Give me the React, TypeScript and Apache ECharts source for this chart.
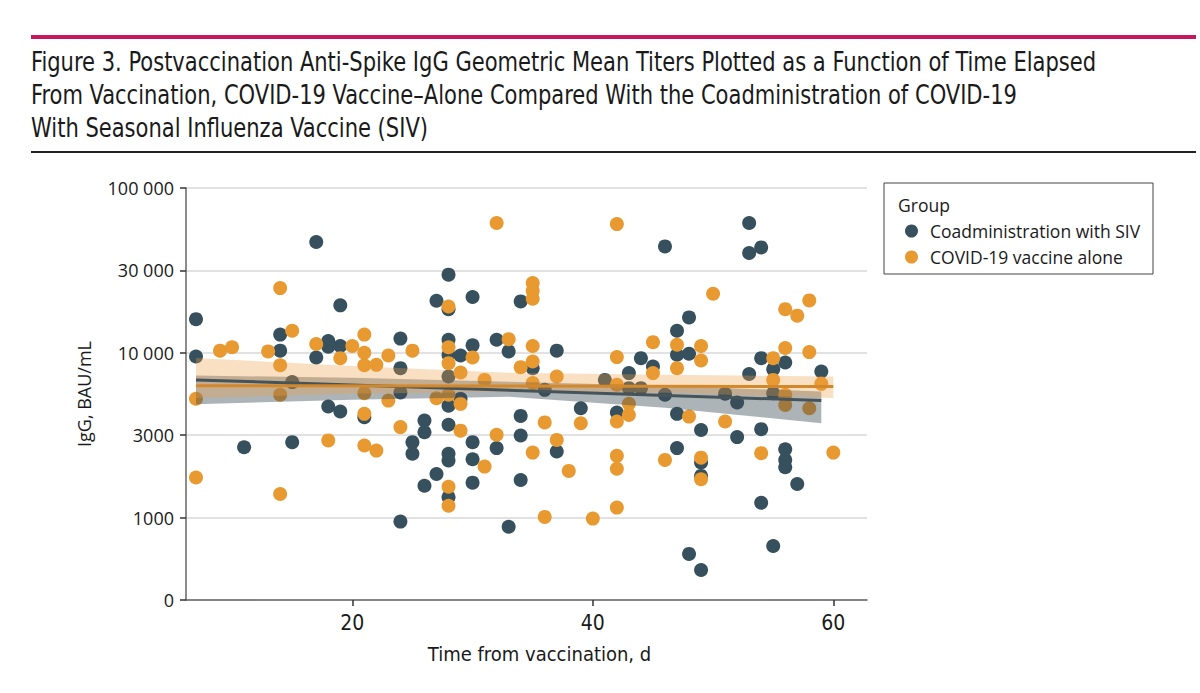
import React, { useEffect, useRef } from "react";
import * as echarts from "echarts";

// ---- Data ----
const coadminDays = [
  7, 7, 11, 14, 14, 15, 15, 17, 17, 18, 18, 18, 19, 19, 19, 21, 24, 24, 24, 24,
  25, 25, 26, 26, 26, 27, 27, 28, 28, 28, 28, 28, 28, 28, 28, 28, 28, 29, 29, 30,
  30, 30, 30, 30, 32, 32, 33, 33, 34, 34, 34, 34, 35, 36, 37, 37, 39, 41, 42, 43,
  43, 44, 44, 45, 46, 46, 47, 47, 47, 47, 48, 48, 48, 49, 49, 49, 49, 51, 52, 52,
  53, 53, 53, 54, 54, 54, 54, 55, 55, 55, 56, 56, 56, 56, 57, 59,
];
const coadminIgG = [
  16000, 9500, 2670, 12900, 10300, 6640, 2870, 47000, 9360, 11800, 10900, 4720, 19400, 11000, 4400, 4070, 12200, 8070, 5740, 946,
  2870, 2440, 3880, 3300, 1560, 20700, 1840, 29800, 18400, 12000, 9700, 7180, 4770, 3660, 2440, 2220, 1330, 9630, 5260, 21800,
  11100, 2870, 2260, 1630, 12000, 2640, 10200, 880, 20500, 4140, 3150, 1690, 8070, 5960, 10300, 2520, 4610, 6850, 4340, 7530,
  6100, 9280, 6100, 8260, 44200, 5560, 13600, 9730, 4260, 2640, 16400, 9860, 602, 3400, 2160, 1790, 481, 5640, 4990, 3080,
  61300, 40300, 7430, 43600, 9280, 3440, 1230, 7960, 5690, 673, 8730, 2600, 2240, 2020, 1600, 7700,
];

const aloneDays = [
  7, 7, 9, 10, 13, 14, 14, 14, 14, 15, 17, 18, 19, 20, 21, 21, 21, 21, 21, 21,
  22, 22, 23, 23, 24, 25, 27, 28, 28, 28, 28, 28, 28, 29, 29, 29, 30, 31, 31, 32,
  32, 33, 34, 35, 35, 35, 35, 35, 35, 35, 36, 36, 37, 37, 38, 39, 40, 42, 42, 42,
  42, 42, 42, 42, 43, 43, 45, 45, 46, 47, 47, 48, 49, 49, 49, 49, 50, 51, 54, 55,
  55, 56, 56, 56, 56, 57, 58, 58, 58, 59, 60,
];
const aloneIgG = [
  5260, 1750, 10300, 10800, 10200, 24700, 8400, 5560, 1390, 13600, 11300, 2940, 9280, 11000, 12900, 10000, 8400, 5690, 4260, 2740,
  8450, 2550, 9630, 5130, 3540, 10300, 5300, 19100, 10800, 8650, 5560, 1540, 1180, 7590, 4900, 3370, 9360, 6850, 2040, 61300,
  3180, 12100, 8180, 26500, 23800, 21300, 11000, 8860, 6550, 2480, 3780, 1010, 7180, 2960, 1920, 3740, 986, 60400, 9420, 6400,
  3830, 2370, 1980, 1150, 4900, 4200, 11600, 7530, 2240, 11200, 8070, 4100, 11000, 8980, 2310, 1710, 22800, 3830, 2460, 9280,
  6850, 18400, 10700, 5560, 4830, 16800, 20800, 10100, 4610, 6480, 2480,
];

// fitted lines and confidence bands
const coadminFitDays = [7, 59];
const coadminFit = [6850, 5130];
const coadminBandDays = [7, 20, 33, 46, 59];
const coadminBandLower = [4880, 5190, 5410, 4640, 3740];
const coadminBandUpper = [7280, 7050, 6670, 6310, 5820];

const aloneFitDays = [7, 60];
const aloneFit = [6320, 6240];
const aloneBandDays = [7, 20, 33, 46, 60];
const aloneBandLower = [5310, 5640, 5800, 5720, 5310];
const aloneBandUpper = [9290, 8330, 7570, 7350, 7180];

// axes
const yTickLabels = ["0", "1000", "3000", "10 000", "30 000", "100 000"];
const xTickValues = [20, 40, 60];

const seriesNames = ["Coadministration with SIV", "COVID-19 vaccine alone"];
const legendTitle = "Group";
const xAxisTitle = "Time from vaccination, d";
const yAxisTitle = "IgG, BAU/mL";
const titleLines = [
  "Figure 3. Postvaccination Anti-Spike IgG Geometric Mean Titers Plotted as a Function of Time Elapsed",
  "From Vaccination, COVID-19 Vaccine–Alone Compared With the Coadministration of COVID-19",
  "With Seasonal Influenza Vaccine (SIV)",
];

const DARK = "#37505d";
const ORANGE = "#e8992f";
const CONDENSED = '"Liberation Sans Narrow", "DejaVu Sans Condensed", "Arial Narrow", sans-serif';
const SANS = '"Open Sans", "Noto Sans", sans-serif';

const lg = (v: number) => Math.log10(v);

function bandSeries(name: string, days: number[], lower: number[], upper: number[], color: string, opacity: number) {
  return {
    type: "custom",
    name,
    z: 3,
    silent: true,
    coordinateSystem: "cartesian2d",
    data: [[days[0], lg(lower[0])]],
    encode: { x: 0, y: 1 },
    renderItem: (_params: any, api: any) => {
      const pts: number[][] = [];
      for (let i = 0; i < days.length; i++) pts.push(api.coord([days[i], lg(upper[i])]));
      for (let i = days.length - 1; i >= 0; i--) pts.push(api.coord([days[i], lg(lower[i])]));
      return { type: "polygon", shape: { points: pts }, style: { fill: color, opacity } };
    },
  };
}

function fitSeries(name: string, days: number[], vals: number[], color: string) {
  return {
    type: "line",
    name,
    z: 4,
    silent: true,
    symbol: "none",
    data: days.map((d, i) => [d, lg(vals[i])]),
    lineStyle: { color, width: 3 },
  };
}

export default function App() {
  const ref = useRef<HTMLDivElement>(null);
  useEffect(() => {
    if (!ref.current) return;
    const chart = echarts.init(ref.current, undefined, { renderer: "svg" });
    const option: any = {
      animation: false,
      backgroundColor: "#ffffff",
      grid: { left: 186, right: 333, top: 188, bottom: 93, containLabel: false },
      xAxis: {
        type: "value",
        min: 6.17,
        max: 62.8,
        name: xAxisTitle,
        nameLocation: "middle",
        nameGap: 44,
        nameTextStyle: { fontFamily: CONDENSED, fontSize: 20, color: "#1a1a1a", padding: [0, 0, 0, 26] },
        axisLine: { show: true, lineStyle: { color: "#666", width: 1.5 } },
        axisTick: { show: true, length: 6, customValues: xTickValues, lineStyle: { color: "#333", width: 1.5 } },
        axisLabel: { customValues: xTickValues, fontFamily: CONDENSED, fontSize: 21, color: "#1a1a1a", margin: 12 },
        splitLine: { show: false },
      },
      yAxis: {
        type: "value",
        min: 2.5,
        max: 5,
        interval: 0.5,
        name: yAxisTitle,
        nameLocation: "middle",
        nameGap: 93,
        nameTextStyle: { fontFamily: SANS, fontSize: 18, color: "#1a1a1a" },
        axisLine: { show: true, lineStyle: { color: "#666", width: 1.5 } },
        axisTick: { show: true, length: 6, lineStyle: { color: "#333", width: 1.5 } },
        axisLabel: {
          fontFamily: SANS,
          fontSize: 18,
          color: "#1a1a1a",
          margin: 12,
          formatter: (v: number) => yTickLabels[Math.round((v - 2.5) / 0.5)] ?? "",
        },
        splitLine: { show: true, lineStyle: { color: "#e2e2e2", width: 2 } },
      },
      legend: {
        data: seriesNames,
        orient: "vertical",
        left: 900,
        top: 217,
        icon: "circle",
        itemWidth: 13,
        itemHeight: 13,
        itemGap: 8,
        textStyle: { fontFamily: SANS, fontSize: 17.5, color: "#1a1a1a", padding: [0, 0, 0, 7] },
      },
      graphic: [
        { type: "rect", shape: { x: 31, y: 35, width: 1165, height: 4 }, style: { fill: "#c8185d" } },
        { type: "rect", shape: { x: 31, y: 151, width: 1165, height: 2 }, style: { fill: "#222" } },
        ...titleLines.map((t, i) => ({
          type: "text",
          x: 31,
          y: 62 + i * 33,
          scaleX: 0.9,
          style: { text: t, font: `26px ${CONDENSED}`, fill: "#1a1a1a", verticalAlign: "middle", align: "left" },
        })),
        { type: "rect", z: -1, shape: { x: 884, y: 183, width: 269, height: 91 }, style: { fill: "#fff", stroke: "#444", lineWidth: 1 } },
        {
          type: "text",
          x: 898,
          y: 205,
          style: { text: legendTitle, font: `17.5px ${SANS}`, fill: "#1a1a1a", verticalAlign: "middle" },
        },
      ],
      series: [
        {
          type: "scatter",
          name: seriesNames[0],
          z: 2,
          symbolSize: 14,
          itemStyle: { color: DARK, opacity: 1 },
          data: coadminDays.map((d, i) => [d, lg(coadminIgG[i])]),
        },
        {
          type: "scatter",
          name: seriesNames[1],
          z: 2,
          symbolSize: 14,
          itemStyle: { color: ORANGE, opacity: 1 },
          data: aloneDays.map((d, i) => [d, lg(aloneIgG[i])]),
        },
        bandSeries("Coadministration band", coadminBandDays, coadminBandLower, coadminBandUpper, "#3c4c55", 0.42),
        bandSeries("Vaccine alone band", aloneBandDays, aloneBandLower, aloneBandUpper, "#eea040", 0.32),
        fitSeries("Coadministration fit", coadminFitDays, coadminFit, "#45545a"),
        fitSeries("Vaccine alone fit", aloneFitDays, aloneFit, "#d4882c"),
      ],
    };
    chart.setOption(option);
    return () => chart.dispose();
  }, []);
  return <div ref={ref} style={{ position: "absolute", left: 0, top: 0, width: 1200, height: 693 }} />;
}
